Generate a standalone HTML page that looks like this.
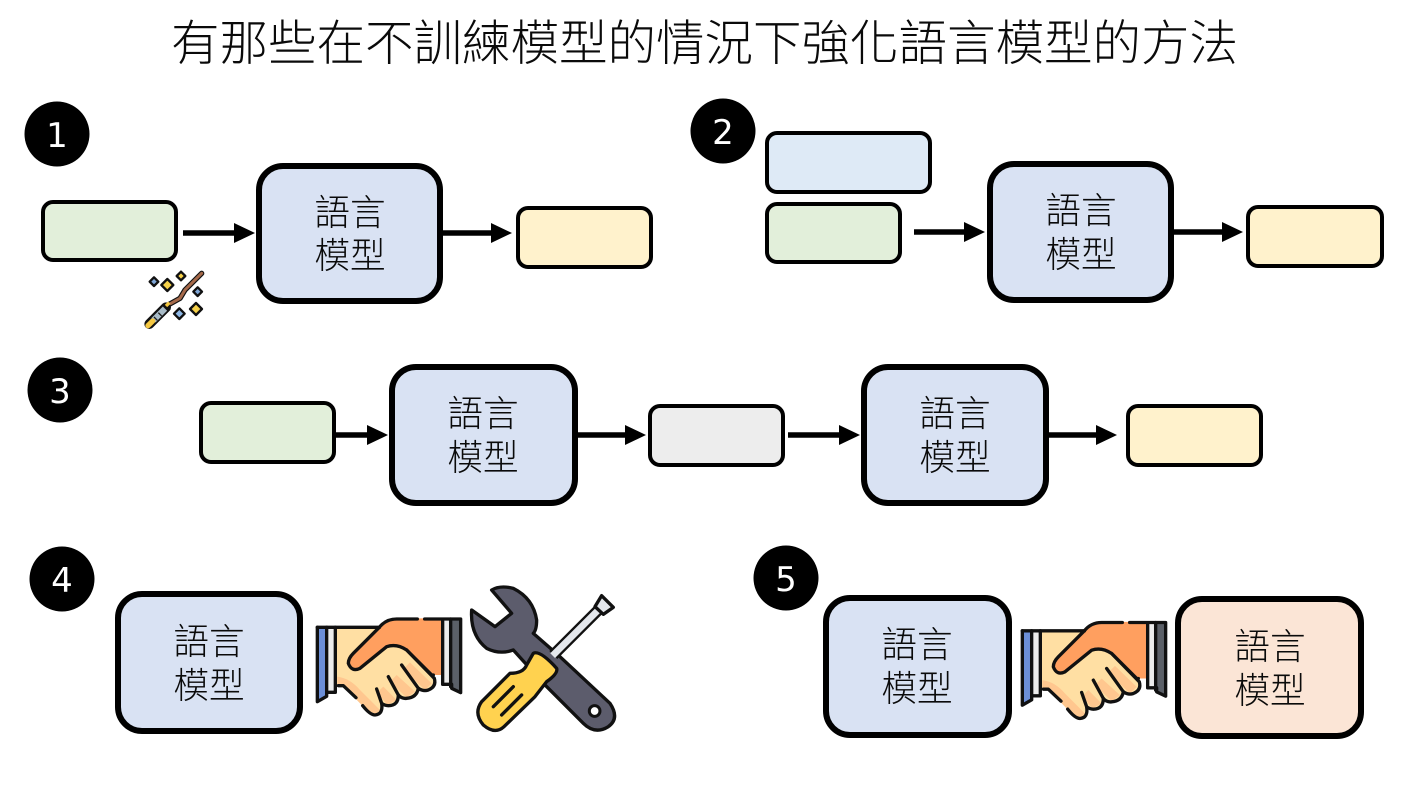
<!DOCTYPE html>
<html><head><meta charset="utf-8">
<style>
html,body{margin:0;padding:0;background:#fff;width:1405px;height:791px;overflow:hidden}
svg{display:block}
text{font-family:"Liberation Sans","Noto Sans CJK TC",sans-serif}
.t{font-size:35.6px;fill:#0a0a0a;text-anchor:middle;font-weight:300}
.n{font-family:"DejaVu Sans",sans-serif;font-size:34px;fill:#fff;text-anchor:middle}
.big{stroke:#000;stroke-width:6}
.sm{stroke:#000;stroke-width:4}
.ln{stroke:#000;stroke-width:5.6}
.k{stroke:#111;stroke-width:10;stroke-linecap:round;stroke-linejoin:round}
</style></head>
<body>
<svg width="1405" height="791" viewBox="0 0 1405 791" xmlns="http://www.w3.org/2000/svg">
<defs>
<g id="shake">
  <path d="M108 160H240L320 215L405 310Q410 335 385 345Q370 350 355 340Q350 368 320 370Q305 372 295 360Q295 392 265 392Q255 392 245 385Q250 418 225 420Q210 420 185 390L130 332H108Z" fill="#FFDFA3"/>
  <path d="M112 305Q150 310 180 345L240 405L225 420L185 390L130 332H112Z" fill="#FFC78F"/>
  <path d="M330 262L395 325L375 345L310 282ZM290 300L345 350L320 368L270 320ZM250 335L290 375L262 390L232 352Z" fill="#FFC78F"/>
  <path d="M240 155Q260 130 290 130H428V300H395L320 225Q290 205 260 215L180 280Q155 292 145 265Q145 250 160 235Z" fill="#FF9F5F"/>
  <path d="M50 155H105V350H82V362L50 382Z" fill="#EDEDED"/>
  <path d="M50 155H80V362L50 382Z" fill="#6C8FD8"/>
  <path d="M428 130H485V355L455 345V330H428Z" fill="#EDEDED"/>
  <path d="M452 130H485V355L452 340Z" fill="#5B6068"/>
  <g fill="none" class="k">
    <path d="M52 157H238"/><path d="M52 157V380L80 364V352H106V157"/><path d="M80 157V352"/>
    <path d="M238 157Q258 132 290 132H352"/><path d="M374 132H482V353L455 340V328H428V132"/><path d="M452 132V335"/>
    <path d="M400 300H395L320 225Q290 205 260 215L180 280Q155 292 145 265Q145 250 160 235L238 157"/>
    <path d="M115 332H130L168 368"/><path d="M188 392Q210 420 225 420Q250 418 245 385"/>
    <path d="M320 225L403 310Q410 335 385 345Q370 350 355 340L305 270"/>
    <path d="M355 340Q350 368 320 370Q305 372 295 360L265 305"/>
    <path d="M295 360Q295 392 265 392Q255 392 245 385L230 342"/>
  </g>
</g>
</defs>

<text x="704.5" y="60" font-size="48.5" fill="#0a0a0a" text-anchor="middle" textLength="1067" font-weight="300">有那些在不訓練模型的情況下強化語言模型的方法</text>

<!-- number circles -->
<circle cx="57" cy="134" r="32.5"/><text class="n" x="57" y="147">1</text>
<circle cx="723" cy="131" r="32.5"/><text class="n" x="723" y="144">2</text>
<circle cx="60" cy="390" r="32.5"/><text class="n" x="60" y="403">3</text>
<circle cx="62" cy="579" r="32.5"/><text class="n" x="62" y="592">4</text>
<circle cx="786" cy="578" r="32.5"/><text class="n" x="786" y="591">5</text>

<!-- row 1 -->
<rect class="sm" x="43" y="202" width="133" height="58" rx="10" fill="#E2EFDA"/>
<rect class="big" x="259" y="166" width="181" height="135" rx="24" fill="#D9E2F3"/>
<text class="t" x="350" y="225">語言</text><text class="t" x="350" y="268">模型</text>
<rect class="sm" x="518" y="208" width="133" height="59" rx="10" fill="#FFF2CC"/>
<path class="ln" d="M183 233H236"/><path d="M234 223L255 233L234 243Z"/>
<path class="ln" d="M443 233H493"/><path d="M491 223L512 233L491 243Z"/>

<!-- wand -->
<g transform="translate(130,260) scale(.3333)">
  <path d="M215 40L165 90L150 115L105 140" fill="none" stroke="#111" stroke-width="16" stroke-linecap="round" stroke-linejoin="round"/>
  <path d="M215 40L165 90L150 115L105 140" fill="none" stroke="#A5694A" stroke-width="9" stroke-linecap="round" stroke-linejoin="round"/>
  <path d="M108 142L58 192" stroke="#111" stroke-width="30" stroke-linecap="round"/>
  <path d="M105 146L70 181" stroke="#A9BCC8" stroke-width="18"/>
  <path d="M85 158L95 168M72 171L82 181" stroke="#222" stroke-width="4"/>
  <path d="M68 183L54 197" stroke="#F5C842" stroke-width="16" stroke-linecap="round"/>
  <path d="M108 138L118 128" stroke="#F5C842" stroke-width="10"/>
  <g stroke="#111" stroke-width="7" stroke-linejoin="round">
    <path d="M72 52L85 65L72 78L59 65Z" fill="#7FA6D6"/>
    <path d="M112 57L130 75L112 93L94 75Z" fill="#F7D24A"/>
    <path d="M153 35L166 48L153 61L140 48Z" fill="#F7D24A"/>
    <path d="M203 82L216 95L203 108L190 95Z" fill="#7FA6D6"/>
    <path d="M148 145L164 161L148 177L132 161Z" fill="#8FB8E6"/>
    <path d="M198 129L216 147L198 165L180 147Z" fill="#F7D24A"/>
  </g>
</g>

<!-- row 2 -->
<rect class="sm" x="767" y="133" width="163" height="59" rx="10" fill="#DEEAF6"/>
<rect class="sm" x="767" y="204" width="133" height="58" rx="10" fill="#E2EFDA"/>
<rect class="big" x="990" y="164" width="181" height="136" rx="24" fill="#D9E2F3"/>
<text class="t" x="1081" y="223">語言</text><text class="t" x="1081" y="267">模型</text>
<rect class="sm" x="1248" y="207" width="134" height="59" rx="10" fill="#FFF2CC"/>
<path class="ln" d="M914 232H966"/><path d="M964 222L985 232L964 242Z"/>
<path class="ln" d="M1174 232H1224"/><path d="M1222 222L1243 232L1222 242Z"/>

<!-- row 3 -->
<rect class="sm" x="201" y="403" width="133" height="59" rx="10" fill="#E2EFDA"/>
<rect class="big" x="392" y="367" width="183" height="136" rx="24" fill="#D9E2F3"/>
<text class="t" x="483" y="426">語言</text><text class="t" x="483" y="470">模型</text>
<rect class="sm" x="650" y="406" width="133" height="59" rx="10" fill="#EDEDED"/>
<rect class="big" x="864" y="367" width="182" height="136" rx="24" fill="#D9E2F3"/>
<text class="t" x="955" y="426">語言</text><text class="t" x="955" y="470">模型</text>
<rect class="sm" x="1128" y="406" width="133" height="59" rx="10" fill="#FFF2CC"/>
<path class="ln" d="M335 435H369"/><path d="M367 425L388 435L367 445Z"/>
<path class="ln" d="M578 435H627"/><path d="M625 425L646 435L625 445Z"/>
<path class="ln" d="M788 435H841"/><path d="M839 425L860 435L839 445Z"/>
<path class="ln" d="M1049 435H1098"/><path d="M1096 425L1117 435L1096 445Z"/>

<!-- row 4 -->
<rect class="big" x="118" y="594" width="182" height="137" rx="24" fill="#D9E2F3"/>
<text class="t" x="209" y="654">語言</text><text class="t" x="209" y="698">模型</text>
<use href="#shake" transform="translate(300,575) scale(.3333)"/>
<g transform="translate(300,575) scale(.3333)">
  <path d="M575 45Q600 30 640 40Q700 70 710 135Q710 165 700 175L780 245L930 385Q960 430 925 455Q885 480 850 445L735 330L640 225Q600 240 560 220Q510 180 515 105L585 155L635 115Z" fill="#5C5C6C" class="k"/>
  <circle cx="884" cy="408" r="16" fill="#fff" stroke="#111" stroke-width="9"/>
  <path d="M760 240L895 105" stroke="#111" stroke-width="34"/>
  <path d="M758 242L897 103" stroke="#E4E7EC" stroke-width="20"/>
  <path d="M885 95L905 62L940 97L910 118Z" fill="#E4E7EC" class="k"/>
  <path d="M700 235Q720 225 770 280Q775 295 740 320L705 365L612 455Q585 480 550 450Q520 415 545 380L630 295Q670 295 680 270Z" fill="#FFD24F" class="k"/>
  <path d="M580 395L640 335M605 420L665 360" class="k" fill="none"/>
</g>

<!-- row 5 -->
<rect class="big" x="826" y="598" width="183" height="137" rx="24" fill="#D9E2F3"/>
<text class="t" x="917" y="657">語言</text><text class="t" x="917" y="701">模型</text>
<use href="#shake" transform="translate(1005,578.5) scale(.3333)"/>
<rect class="big" x="1178" y="599" width="183" height="137" rx="24" fill="#FBE5D6"/>
<text class="t" x="1270" y="659">語言</text><text class="t" x="1270" y="703">模型</text>
</svg>
</body></html>
